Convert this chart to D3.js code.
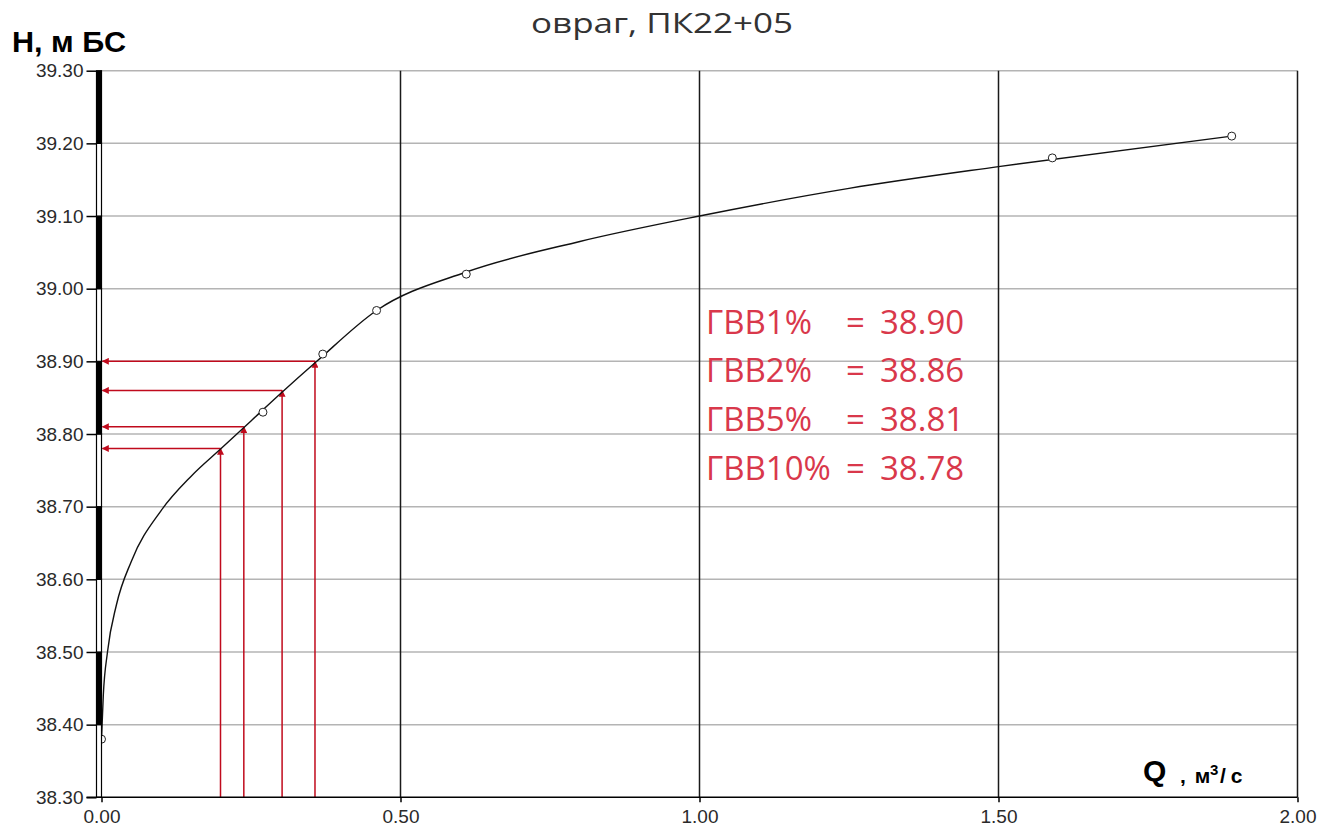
<!DOCTYPE html>
<html>
<head>
<meta charset="utf-8">
<script src="https://cdn.jsdelivr.net/npm/d3@7"></script>
<style>
  html, body { margin: 0; padding: 0; background: #fff; }
  svg { display: block; }
</style>
</head>
<body>
<svg id="chart" width="1320" height="827"></svg>
<script>
// Measured points of the rating curve: discharge Q (m³/s) and level H (m BS)
const pointQ = [0.00, 0.27, 0.37, 0.46, 0.61, 1.59, 1.89];
const pointH = [38.38, 38.83, 38.91, 38.97, 39.02, 39.18, 39.21];

// Smoothed rating curve H(Q)
const curveQ = [0.000, 0.003, 0.010, 0.025, 0.050, 0.100, 0.150, 0.200, 0.250, 0.300, 0.360, 0.460, 0.610, 0.800, 1.000, 1.250, 1.500, 1.890];
const curveH = [38.38, 38.44, 38.50, 38.565, 38.625, 38.695, 38.742, 38.78, 38.818, 38.856, 38.90, 38.97, 39.023, 39.065, 39.10, 39.138, 39.168, 39.21];

// Design high-water levels (ГВВ) and the discharges they are read from
const gvvLabels = ["ГВВ1%", "ГВВ2%", "ГВВ5%", "ГВВ10%"];
const gvvQ = [0.357, 0.302, 0.238, 0.199];
const gvvH = [38.90, 38.86, 38.81, 38.78];

// Axis ticks
const yTicks = [38.30, 38.40, 38.50, 38.60, 38.70, 38.80, 38.90, 39.00, 39.10, 39.20, 39.30];
const xTicks = [0.00, 0.50, 1.00, 1.50, 2.00];

const svg = d3.select("#chart");
const plotL = 101.5, plotR = 1297.5, plotT = 70.7, plotB = 797.3;
const x = d3.scaleLinear().domain([0, 2]).range([plotL, plotR]);
const y = d3.scaleLinear().domain([38.3, 39.3]).range([plotB, plotT]);

const red = "#c00a1c";
const textRed = "#d9384b";

// Arrowhead marker
const defs = svg.append("defs");
defs.append("marker")
  .attr("id", "arrow")
  .attr("viewBox", "0 0 10 10")
  .attr("refX", 9).attr("refY", 5)
  .attr("markerWidth", 9).attr("markerHeight", 7)
  .attr("markerUnits", "userSpaceOnUse")
  .attr("orient", "auto")
  .append("path")
  .attr("d", "M0,0 L10,5 L0,10 Z")
  .attr("fill", red);

// Horizontal grid lines
svg.append("g")
  .selectAll("line")
  .data(yTicks.slice(1))
  .join("line")
  .attr("x1", plotL).attr("x2", plotR)
  .attr("y1", d => y(d)).attr("y2", d => y(d))
  .attr("stroke", "#b4b4b4").attr("stroke-width", 1.5);

// Vertical grid lines
svg.append("g")
  .selectAll("line")
  .data(xTicks.slice(1))
  .join("line")
  .attr("x1", d => x(d)).attr("x2", d => x(d))
  .attr("y1", plotT).attr("y2", plotB)
  .attr("stroke", "#1a1a1a").attr("stroke-width", 1.5);

// Red reading lines: up from the Q axis to the curve, then left to the H axis
const arrows = svg.append("g");
gvvQ.forEach((q, i) => {
  arrows.append("line")
    .attr("x1", x(q)).attr("x2", x(q))
    .attr("y1", plotB).attr("y2", y(gvvH[i]))
    .attr("stroke", red).attr("stroke-width", 1.5)
    .attr("marker-end", "url(#arrow)");
  arrows.append("line")
    .attr("x1", x(q)).attr("x2", plotL + 1)
    .attr("y1", y(gvvH[i])).attr("y2", y(gvvH[i]))
    .attr("stroke", red).attr("stroke-width", 1.5)
    .attr("marker-end", "url(#arrow)");
});

// Rating curve
const curveData = curveQ.map((q, i) => [q, curveH[i]]);
svg.append("path")
  .datum(curveData)
  .attr("d", d3.line().x(d => x(d[0])).y(d => y(d[1])).curve(d3.curveMonotoneX))
  .attr("fill", "none")
  .attr("stroke", "#111")
  .attr("stroke-width", 1.4);

// Measured points
svg.append("g")
  .selectAll("circle")
  .data(pointQ.map((q, i) => [q, pointH[i]]))
  .join("circle")
  .attr("cx", d => x(d[0])).attr("cy", d => y(d[1]))
  .attr("r", 4)
  .attr("fill", "#fff")
  .attr("stroke", "#222")
  .attr("stroke-width", 1);

// Left scale bar: alternating filled segments
const barW = 5;
const bar = svg.append("g");
for (let i = 0; i < yTicks.length - 1; i++) {
  const lo = yTicks[i], hi = yTicks[i + 1];
  const filled = (yTicks.length - 2 - i) % 2 === 0;
  bar.append("rect")
    .attr("x", plotL - barW).attr("y", y(hi))
    .attr("width", barW).attr("height", y(lo) - y(hi))
    .attr("fill", filled ? "#000" : "#fff")
    .attr("stroke", "#000").attr("stroke-width", 1.2);
}

// Y axis
const yAxis = svg.append("g")
  .attr("transform", `translate(${plotL - barW},0)`)
  .call(d3.axisLeft(y).tickValues(yTicks).tickFormat(d3.format(".2f")).tickSize(10).tickPadding(3));
yAxis.select(".domain").remove();
yAxis.selectAll(".tick line").attr("stroke", "#000").attr("stroke-width", 1.5);
yAxis.selectAll(".tick text")
  .attr("font-family", "Liberation Sans, Arial, sans-serif")
  .attr("font-size", 19)
  .attr("fill", "#2a2a2a");

// X axis
const xAxis = svg.append("g")
  .attr("transform", `translate(0,${plotB})`)
  .call(d3.axisBottom(x).tickValues(xTicks).tickFormat(d3.format(".2f")).tickSize(5).tickPadding(7));
xAxis.select(".domain").attr("d", `M${plotL - barW - 10},0H${plotR}`).attr("stroke", "#000").attr("stroke-width", 1.5);
xAxis.selectAll(".tick line").attr("stroke", "#000").attr("stroke-width", 1.5);
xAxis.selectAll(".tick text")
  .attr("font-family", "Liberation Sans, Arial, sans-serif")
  .attr("font-size", 19)
  .attr("fill", "#2a2a2a");

// Title
svg.append("text")
  .attr("x", 662).attr("y", 33)
  .attr("text-anchor", "middle")
  .attr("font-family", "Open Sans, sans-serif")
  .attr("font-size", 28)
  .attr("fill", "#333")
  .attr("textLength", 262).attr("lengthAdjust", "spacingAndGlyphs")
  .text("овраг, ПК22+05");

// Y axis title
svg.append("text")
  .attr("x", 12).attr("y", 52)
  .attr("font-family", "Liberation Sans, Arial, sans-serif")
  .attr("font-size", 29)
  .attr("font-weight", "bold")
  .attr("fill", "#000")
  .attr("textLength", 114).attr("lengthAdjust", "spacingAndGlyphs")
  .text("Н, м БС");

// X axis title: Q , м³/с
const qg = svg.append("g")
  .attr("font-family", "Liberation Sans, Arial, sans-serif")
  .attr("font-weight", "bold")
  .attr("fill", "#000");
qg.append("text").attr("x", 1143).attr("y", 781).attr("font-size", 30).text("Q");
qg.append("text").attr("x", 1180).attr("y", 783).attr("font-size", 21)
  .attr("letter-spacing", 1.5).text(", м");
qg.append("text").attr("x", 1210).attr("y", 775).attr("font-size", 15).text("3");
qg.append("text").attr("x", 1220).attr("y", 783).attr("font-size", 21)
  .attr("letter-spacing", 5).text("/с");

// ГВВ annotations
const fmt = d3.format(".2f");
const ann = svg.append("g")
  .attr("font-family", "Open Sans, sans-serif")
  .attr("font-size", 33)
  .attr("fill", textRed);
gvvLabels.forEach((lab, i) => {
  const by = 333.5 + i * 48.7;
  ann.append("text").attr("x", 706).attr("y", by).text(lab);
  ann.append("text").attr("x", 846).attr("y", by).text("=");
  ann.append("text").attr("x", 880).attr("y", by).text(fmt(gvvH[i]));
});
</script>
</body>
</html>
